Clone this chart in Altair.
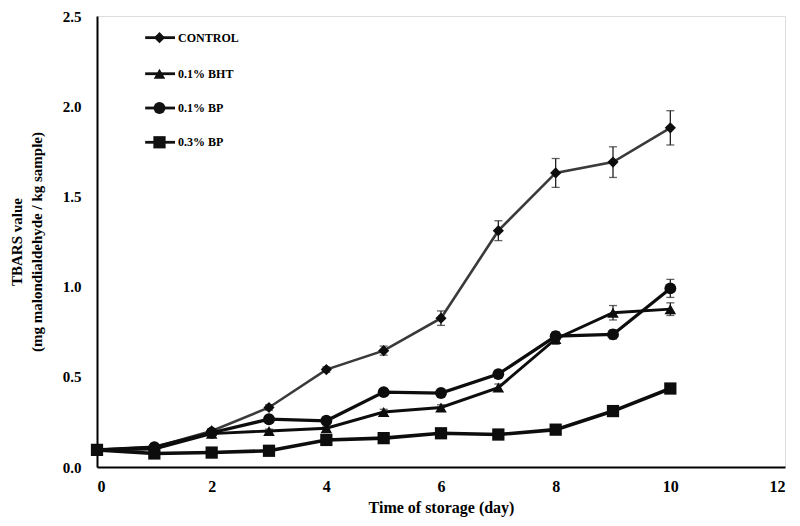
import altair as alt
import pandas as pd

days = [0, 1, 2, 3, 4, 5, 6, 7, 8, 9, 10]
series_names = ["CONTROL", "0.1% BHT", "0.1% BP", "0.3% BP"]

control = [0.095, 0.11, 0.20, 0.33, 0.54, 0.645, 0.825, 1.31, 1.63, 1.69, 1.88]
bht = [0.095, 0.10, 0.185, 0.20, 0.215, 0.305, 0.33, 0.44, 0.71, 0.855, 0.875]
bp1 = [0.095, 0.11, 0.19, 0.265, 0.256, 0.415, 0.41, 0.515, 0.725, 0.735, 0.99]
bp3 = [0.095, 0.075, 0.08, 0.09, 0.15, 0.16, 0.187, 0.18, 0.207, 0.31, 0.435]

control_err = [0.005, 0.01, 0.01, 0.015, 0.015, 0.025, 0.04, 0.055, 0.08, 0.085, 0.095]
bht_err = [0.005, 0.005, 0.01, 0.01, 0.01, 0.015, 0.015, 0.02, 0.03, 0.04, 0.035]
bp1_err = [0.005, 0.01, 0.01, 0.015, 0.01, 0.015, 0.015, 0.02, 0.025, 0.025, 0.05]
bp3_err = [0.005, 0.005, 0.005, 0.005, 0.01, 0.01, 0.01, 0.01, 0.01, 0.015, 0.015]

x_ticks = [0, 2, 4, 6, 8, 10, 12]
y_ticks = [0.0, 0.5, 1.0, 1.5, 2.0, 2.5]

# legend placement (in data units)
legend_y = [2.38, 2.18, 1.99, 1.80]
legend_x0, legend_x1, legend_xm, legend_xt = 0.84, 1.36, 1.09, 1.38

rows = []
for name, vals, errs in zip(series_names, [control, bht, bp1, bp3],
                            [control_err, bht_err, bp1_err, bp3_err]):
    for d, v, e in zip(days, vals, errs):
        rows.append({"series": name, "day": d, "value": v, "lo": v - e, "hi": v + e})
df = pd.DataFrame(rows)

leg = pd.DataFrame({
    "series": series_names,
    "ly": legend_y,
    "x0": [legend_x0] * 4,
    "x1": [legend_x1] * 4,
    "xm": [legend_xm] * 4,
    "xt": [legend_xt] * 4,
})

FONT = "Liberation Serif"
shape_scale = alt.Scale(domain=series_names, range=["diamond", "triangle-up", "circle", "square"])
color_scale = alt.Scale(domain=series_names, range=["#3a3a3a", "#0d0d0d", "#0d0d0d", "#0d0d0d"])
size_line = alt.Scale(domain=series_names, range=[2.6, 3.6, 3.6, 3.6])
size_pt = alt.Scale(domain=series_names, range=[125, 150, 150, 165])

xs = alt.Scale(domain=[0, 12], nice=False)
ys = alt.Scale(domain=[0, 2.5], nice=False)

x_enc = alt.X("day:Q", scale=xs, title="Time of storage (day)",
              axis=alt.Axis(values=x_ticks, format="d", grid=False, ticks=False,
                            domainColor="black", domainWidth=2, labelFont=FONT,
                            labelFontSize=16, labelColor="black", labelPadding=11,
                            labelFontWeight="bold",
                            titleFont=FONT, titleFontSize=16, titleFontWeight="bold",
                            titleColor="black", titlePadding=5))
y_enc = alt.Y("value:Q", scale=ys, title=["TBARS value", "(mg malondialdehyde / kg sample)"],
              axis=alt.Axis(values=y_ticks, format=".1f", grid=False, ticks=False,
                            domainColor="black", domainWidth=2, labelFont=FONT,
                            labelFontSize=15, labelColor="black", labelPadding=16,
                            labelFontWeight="bold",
                            titleFont=FONT, titleFontSize=15, titleFontWeight="bold",
                            titleColor="black", titlePadding=18, titleLineHeight=20))

base = alt.Chart(df)

lines = base.mark_line().encode(
    x=x_enc, y=y_enc,
    color=alt.Color("series:N", scale=color_scale, legend=None),
    strokeWidth=alt.StrokeWidth("series:N", scale=size_line, legend=None),
    detail="series:N",
)

err = base.mark_rule(color="#222222", strokeWidth=1.3).encode(
    x="day:Q", y="lo:Q", y2="hi:Q")
cap_lo = base.mark_tick(color="#222222", orient="horizontal", size=8, thickness=1.3).encode(
    x="day:Q", y="lo:Q")
cap_hi = base.mark_tick(color="#222222", orient="horizontal", size=8, thickness=1.3).encode(
    x="day:Q", y="hi:Q")

points = base.mark_point(filled=True, opacity=1, color="#0d0d0d").encode(
    x="day:Q", y="value:Q",
    shape=alt.Shape("series:N", scale=shape_scale, legend=None),
    size=alt.Size("series:N", scale=size_pt, legend=None),
)

lbase = alt.Chart(leg)
leg_line = lbase.mark_rule(color="#111111", strokeWidth=2.8).encode(
    x="x0:Q", x2="x1:Q", y="ly:Q")
leg_pt = lbase.mark_point(filled=True, opacity=1, color="#111111").encode(
    x="xm:Q", y="ly:Q",
    shape=alt.Shape("series:N", scale=shape_scale, legend=None),
    size=alt.Size("series:N", scale=alt.Scale(domain=series_names, range=[60, 90, 100, 100]), legend=None),
)
leg_txt = lbase.mark_text(align="left", baseline="middle", font=FONT, fontSize=12,
                          fontWeight="bold", color="black", dx=2).encode(
    x="xt:Q", y="ly:Q", text="series:N")

chart = alt.layer(lines, err, cap_lo, cap_hi, points, leg_line, leg_pt, leg_txt).properties(
    width=688, height=451,
    autosize="none",
    padding={"left": 89, "top": 8, "right": 7, "bottom": 58},
).configure_view(stroke=None).configure(background="white")

chart.save("out.html", embed_options={"renderer": "svg", "actions": False})
